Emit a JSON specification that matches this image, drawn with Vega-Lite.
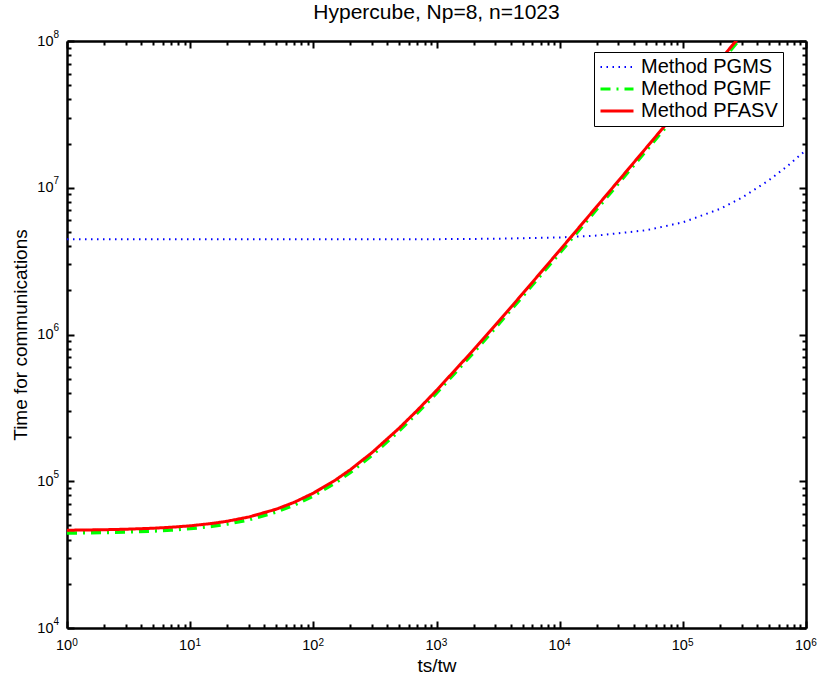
{
  "$schema": "https://vega.github.io/schema/vega-lite/v6.json",
  "width": 739,
  "height": 587,
  "autosize": {"type": "none"},
  "padding": {"left": 67, "top": 41, "right": 11, "bottom": 51},
  "background": "white",
  "title": {"text": "Hypercube, Np=8, n=1023", "font": "Liberation Sans", "fontSize": 21, "fontWeight": "normal", "color": "black", "offset": 6, "anchor": "middle"},
  "config": {
    "view": {"stroke": null},
    "axis": {"labelFont": "Liberation Sans", "titleFont": "Liberation Sans", "labelColor": "black", "titleColor": "black", "domainColor": "black", "tickColor": "black", "grid": false, "titleFontWeight": "normal", "labelFlush": false, "labelOverlap": false, "labelBound": false}
  },
  "datasets": {
    "pgms": [
      {"ts_tw": 1, "time": 4450014, "method": "Method PGMS"},
      {"ts_tw": 10, "time": 4450136, "method": "Method PGMS"},
      {"ts_tw": 100, "time": 4451360, "method": "Method PGMS"},
      {"ts_tw": 1000, "time": 4463600, "method": "Method PGMS"},
      {"ts_tw": 3000, "time": 4490800, "method": "Method PGMS"},
      {"ts_tw": 10000, "time": 4586000, "method": "Method PGMS"},
      {"ts_tw": 20000, "time": 4722000, "method": "Method PGMS"},
      {"ts_tw": 50000, "time": 5130000, "method": "Method PGMS"},
      {"ts_tw": 100000, "time": 5810000, "method": "Method PGMS"},
      {"ts_tw": 200000, "time": 7170000, "method": "Method PGMS"},
      {"ts_tw": 300000, "time": 8530000, "method": "Method PGMS"},
      {"ts_tw": 500000, "time": 11250000, "method": "Method PGMS"},
      {"ts_tw": 700000, "time": 13970000, "method": "Method PGMS"},
      {"ts_tw": 1000000, "time": 18050000, "method": "Method PGMS"}
    ],
    "pgmf": [
      {"ts_tw": 1, "time": 44355, "method": "Method PGMF"},
      {"ts_tw": 2, "time": 44710, "method": "Method PGMF"},
      {"ts_tw": 3, "time": 45065, "method": "Method PGMF"},
      {"ts_tw": 5, "time": 45775, "method": "Method PGMF"},
      {"ts_tw": 7, "time": 46485, "method": "Method PGMF"},
      {"ts_tw": 10, "time": 47550, "method": "Method PGMF"},
      {"ts_tw": 15, "time": 49325, "method": "Method PGMF"},
      {"ts_tw": 20, "time": 51100, "method": "Method PGMF"},
      {"ts_tw": 30, "time": 54650, "method": "Method PGMF"},
      {"ts_tw": 50, "time": 61750, "method": "Method PGMF"},
      {"ts_tw": 70, "time": 68850, "method": "Method PGMF"},
      {"ts_tw": 100, "time": 79500, "method": "Method PGMF"},
      {"ts_tw": 150, "time": 97250, "method": "Method PGMF"},
      {"ts_tw": 200, "time": 115000, "method": "Method PGMF"},
      {"ts_tw": 300, "time": 150500, "method": "Method PGMF"},
      {"ts_tw": 500, "time": 221500, "method": "Method PGMF"},
      {"ts_tw": 700, "time": 292500, "method": "Method PGMF"},
      {"ts_tw": 1000, "time": 399000, "method": "Method PGMF"},
      {"ts_tw": 2000, "time": 754000, "method": "Method PGMF"},
      {"ts_tw": 3000, "time": 1109000, "method": "Method PGMF"},
      {"ts_tw": 5000, "time": 1819000, "method": "Method PGMF"},
      {"ts_tw": 10000, "time": 3594000, "method": "Method PGMF"},
      {"ts_tw": 20000, "time": 7144000, "method": "Method PGMF"},
      {"ts_tw": 50000, "time": 17794000, "method": "Method PGMF"},
      {"ts_tw": 100000, "time": 35544000, "method": "Method PGMF"},
      {"ts_tw": 200000, "time": 71044000, "method": "Method PGMF"},
      {"ts_tw": 300000, "time": 106544000, "method": "Method PGMF"}
    ],
    "pfasv": [
      {"ts_tw": 1, "time": 46370, "method": "Method PFASV"},
      {"ts_tw": 2, "time": 46740, "method": "Method PFASV"},
      {"ts_tw": 3, "time": 47110, "method": "Method PFASV"},
      {"ts_tw": 5, "time": 47850, "method": "Method PFASV"},
      {"ts_tw": 7, "time": 48590, "method": "Method PFASV"},
      {"ts_tw": 10, "time": 49700, "method": "Method PFASV"},
      {"ts_tw": 15, "time": 51550, "method": "Method PFASV"},
      {"ts_tw": 20, "time": 53400, "method": "Method PFASV"},
      {"ts_tw": 30, "time": 57100, "method": "Method PFASV"},
      {"ts_tw": 50, "time": 64500, "method": "Method PFASV"},
      {"ts_tw": 70, "time": 71900, "method": "Method PFASV"},
      {"ts_tw": 100, "time": 83000, "method": "Method PFASV"},
      {"ts_tw": 150, "time": 101500, "method": "Method PFASV"},
      {"ts_tw": 200, "time": 120000, "method": "Method PFASV"},
      {"ts_tw": 300, "time": 157000, "method": "Method PFASV"},
      {"ts_tw": 500, "time": 231000, "method": "Method PFASV"},
      {"ts_tw": 700, "time": 305000, "method": "Method PFASV"},
      {"ts_tw": 1000, "time": 416000, "method": "Method PFASV"},
      {"ts_tw": 2000, "time": 786000, "method": "Method PFASV"},
      {"ts_tw": 3000, "time": 1156000, "method": "Method PFASV"},
      {"ts_tw": 5000, "time": 1896000, "method": "Method PFASV"},
      {"ts_tw": 10000, "time": 3746000, "method": "Method PFASV"},
      {"ts_tw": 20000, "time": 7446000, "method": "Method PFASV"},
      {"ts_tw": 50000, "time": 18546000, "method": "Method PFASV"},
      {"ts_tw": 100000, "time": 37046000, "method": "Method PFASV"},
      {"ts_tw": 200000, "time": 74046000, "method": "Method PFASV"},
      {"ts_tw": 300000, "time": 111046000, "method": "Method PFASV"}
    ]
  },
  "layer": [
    {
      "data": {"name": "pgms"},
      "mark": {"type": "line", "clip": true, "strokeWidth": 2},
      "encoding": {
        "x": {"field": "ts_tw", "type": "quantitative", "scale": {"type": "log", "domain": [1, 1000000], "nice": false},
          "axis": {"orient": "bottom", "title": "ts/tw", "titleFontSize": 19, "titlePadding": 5, "values": [1, 10, 100, 1000, 10000, 100000, 1000000], "labelExpr": "'10'", "labelFontSize": 14.5, "labelOffset": -3.5, "labelPadding": 17, "tickSize": -7, "tickWidth": 2, "domainWidth": 2.5}},
        "y": {"field": "time", "type": "quantitative", "scale": {"type": "log", "domain": [10000, 100000000], "nice": false},
          "axis": {"orient": "left", "title": "Time for communications", "titleFontSize": 19, "titlePadding": 6, "values": [10000, 100000, 1000000, 10000000, 100000000], "labelExpr": "'10'", "labelFontSize": 14.5, "labelPadding": 21, "labelBaseline": "middle", "tickSize": -7, "tickWidth": 2, "domainWidth": 2.5}},
        "color": {"field": "method", "type": "nominal", "scale": {"domain": ["Method PGMS", "Method PGMF", "Method PFASV"], "range": ["#0000ff", "#00ff00", "#ff0000"]},
          "legend": {"title": null, "orient": "none", "legendX": 527, "legendY": 11, "symbolType": "stroke", "symbolSize": 1089, "symbolOffset": 8, "labelFont": "Liberation Sans", "labelFontSize": 20, "labelColor": "black", "labelOffset": 14, "rowPadding": 2, "padding": 5, "strokeColor": "black", "fillColor": "white", "cornerRadius": 0,
            "encode": {"symbols": {"update": {"strokeWidth": {"signal": "datum.value === 'Method PGMS' ? 2 : 3"}}}}}},
        "strokeDash": {"field": "method", "type": "nominal", "scale": {"domain": ["Method PGMS", "Method PGMF", "Method PFASV"], "range": [[1.5, 4.5], [10, 6, 2, 6], [1, 0]]}}
      }
    },
    {
      "data": {"name": "pgmf"},
      "mark": {"type": "line", "clip": true, "strokeWidth": 3.5},
      "encoding": {
        "x": {"field": "ts_tw", "type": "quantitative", "scale": {"type": "log", "domain": [1, 1000000], "nice": false},
          "axis": {"orient": "bottom", "title": null, "values": [1, 10, 100, 1000, 10000, 100000, 1000000], "labelExpr": "'' + round(log(datum.value) / LN10)", "labelFontSize": 10, "labelOffset": 7.5, "labelPadding": 9, "ticks": false, "domain": false}},
        "y": {"field": "time", "type": "quantitative", "scale": {"type": "log", "domain": [10000, 100000000], "nice": false},
          "axis": {"orient": "left", "title": null, "values": [10000, 100000, 1000000, 10000000, 100000000], "labelExpr": "'' + round(log(datum.value) / LN10)", "labelFontSize": 10, "labelAlign": "left", "labelBaseline": "middle", "labelOffset": -7, "labelPadding": 14, "ticks": false, "domain": false}},
        "color": {"field": "method", "type": "nominal"},
        "strokeDash": {"field": "method", "type": "nominal"}
      }
    },
    {
      "data": {"name": "pfasv"},
      "mark": {"type": "line", "clip": true, "strokeWidth": 3},
      "encoding": {
        "x": {"field": "ts_tw", "type": "quantitative", "scale": {"type": "log", "domain": [1, 1000000], "nice": false},
          "axis": {"orient": "bottom", "title": null, "values": [2, 3, 4, 5, 6, 7, 8, 9, 20, 30, 40, 50, 60, 70, 80, 90, 200, 300, 400, 500, 600, 700, 800, 900, 2000, 3000, 4000, 5000, 6000, 7000, 8000, 9000, 20000, 30000, 40000, 50000, 60000, 70000, 80000, 90000, 200000, 300000, 400000, 500000, 600000, 700000, 800000, 900000], "labels": false, "domain": false, "tickSize": -4, "tickWidth": 2}},
        "y": {"field": "time", "type": "quantitative", "scale": {"type": "log", "domain": [10000, 100000000], "nice": false},
          "axis": {"orient": "left", "title": null, "values": [20000, 30000, 40000, 50000, 60000, 70000, 80000, 90000, 200000, 300000, 400000, 500000, 600000, 700000, 800000, 900000, 2000000, 3000000, 4000000, 5000000, 6000000, 7000000, 8000000, 9000000, 20000000, 30000000, 40000000, 50000000, 60000000, 70000000, 80000000, 90000000], "labels": false, "domain": false, "tickSize": -4, "tickWidth": 2}},
        "color": {"field": "method", "type": "nominal"},
        "strokeDash": {"field": "method", "type": "nominal"}
      }
    },
    {
      "data": {"name": "pfasv"},
      "mark": {"type": "point", "opacity": 0},
      "encoding": {
        "x": {"field": "ts_tw", "type": "quantitative", "scale": {"type": "log", "domain": [1, 1000000], "nice": false},
          "axis": {"orient": "top", "title": null, "values": [1, 10, 100, 1000, 10000, 100000, 1000000], "labels": false, "tickSize": -7, "tickWidth": 2, "domainWidth": 2.5}},
        "y": {"field": "time", "type": "quantitative", "scale": {"type": "log", "domain": [10000, 100000000], "nice": false},
          "axis": {"orient": "right", "title": null, "values": [10000, 100000, 1000000, 10000000, 100000000], "labels": false, "tickSize": -7, "tickWidth": 2, "domainWidth": 2.5}}
      }
    },
    {
      "data": {"name": "pfasv"},
      "mark": {"type": "point", "opacity": 0},
      "encoding": {
        "x": {"field": "ts_tw", "type": "quantitative", "scale": {"type": "log", "domain": [1, 1000000], "nice": false},
          "axis": {"orient": "top", "title": null, "values": [2, 3, 4, 5, 6, 7, 8, 9, 20, 30, 40, 50, 60, 70, 80, 90, 200, 300, 400, 500, 600, 700, 800, 900, 2000, 3000, 4000, 5000, 6000, 7000, 8000, 9000, 20000, 30000, 40000, 50000, 60000, 70000, 80000, 90000, 200000, 300000, 400000, 500000, 600000, 700000, 800000, 900000], "labels": false, "domain": false, "tickSize": -4, "tickWidth": 2}},
        "y": {"field": "time", "type": "quantitative", "scale": {"type": "log", "domain": [10000, 100000000], "nice": false},
          "axis": {"orient": "right", "title": null, "values": [20000, 30000, 40000, 50000, 60000, 70000, 80000, 90000, 200000, 300000, 400000, 500000, 600000, 700000, 800000, 900000, 2000000, 3000000, 4000000, 5000000, 6000000, 7000000, 8000000, 9000000, 20000000, 30000000, 40000000, 50000000, 60000000, 70000000, 80000000, 90000000], "labels": false, "domain": false, "tickSize": -4, "tickWidth": 2}}
      }
    }
  ],
  "resolve": {"axis": {"x": "independent", "y": "independent"}}
}
